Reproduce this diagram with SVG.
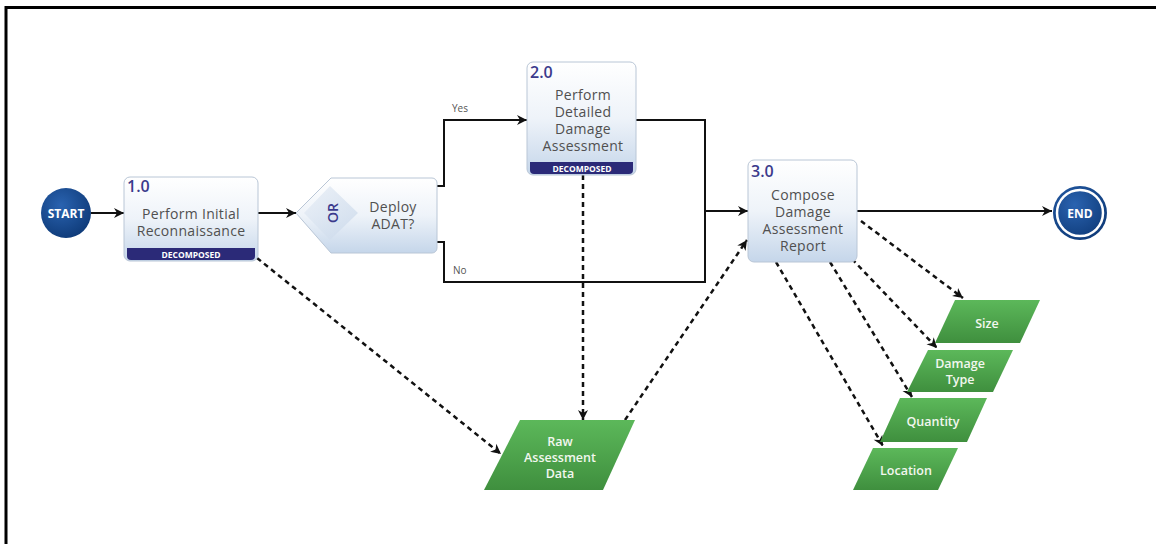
<svg xmlns="http://www.w3.org/2000/svg" width="1156" height="544" viewBox="0 0 1156 544">
<defs>
<linearGradient id="boxg" x1="0" y1="0" x2="0" y2="1"><stop offset="0" stop-color="#ffffff"/><stop offset="0.5" stop-color="#eef3f9"/><stop offset="1" stop-color="#c5d6ea"/></linearGradient>
<linearGradient id="greeng" x1="0" y1="0" x2="0" y2="1"><stop offset="0" stop-color="#5cb85a"/><stop offset="1" stop-color="#3f8f3e"/></linearGradient>
<radialGradient id="blueg" cx="0.4" cy="0.35" r="0.7"><stop offset="0" stop-color="#2a63b0"/><stop offset="1" stop-color="#0e3a78"/></radialGradient>
<linearGradient id="ordiam" x1="0" y1="0" x2="1" y2="1"><stop offset="0" stop-color="#e8eef6"/><stop offset="1" stop-color="#c9d8ea"/></linearGradient>
<marker id="arr" viewBox="0 0 12 12" refX="11" refY="6" markerWidth="12" markerHeight="12" markerUnits="userSpaceOnUse" orient="auto"><path d="M1,1 L11,6 L1,11 L4,6 Z" fill="#111"/></marker>
</defs>
<style>
.frame{stroke:#000;stroke-width:3;fill:none}
.box{fill:url(#boxg);stroke:#b9c6d6;stroke-width:1}
.num{font-family:"Open Sans","DejaVu Sans",sans-serif;font-size:16px;font-weight:600;fill:#3b3a8c}
.txt{font-family:"Open Sans","DejaVu Sans",sans-serif;font-size:14px;letter-spacing:0.3px;fill:#505050;text-anchor:middle}
.band{fill:#2b2a78}
.bandt{font-family:"Open Sans","DejaVu Sans",sans-serif;font-size:8.5px;font-weight:bold;fill:#fff;text-anchor:middle}
.green{fill:url(#greeng)}
.gt{font-family:"Open Sans","DejaVu Sans",sans-serif;font-size:12.5px;font-weight:600;fill:#f2f7ef;text-anchor:middle}
.solid{stroke:#111;stroke-width:2;fill:none}
.dash{stroke:#111;stroke-width:2.5;fill:none;stroke-dasharray:5 4}
.lbl{font-family:"Open Sans","DejaVu Sans",sans-serif;font-size:10px;fill:#555}
.circt{font-family:"Open Sans","DejaVu Sans",sans-serif;font-size:12px;font-weight:bold;fill:#fff;text-anchor:middle}
</style>
<rect width="1156" height="544" fill="#fff"/>
<path class="frame" d="M6,544 V7.5 H1156"/>

<g id="connectors">
<path class="solid" d="M91,213 H124" marker-end="url(#arr)"/>
<path class="solid" d="M258,213 H296" marker-end="url(#arr)"/>
<path class="solid" d="M437,186 H444 V120 H527" marker-end="url(#arr)"/>
<path class="solid" d="M437,242 H444 V282 H705 V120 H636"/>
<path class="solid" d="M705,211 H748" marker-end="url(#arr)"/>
<path class="solid" d="M857,211 H1052" marker-end="url(#arr)"/>
<path class="dash" d="M583,175 V420" marker-end="url(#arr)"/>
<path class="dash" d="M257,258 L501,454" marker-end="url(#arr)"/>
<path class="dash" d="M625,420 L747,240" marker-end="url(#arr)"/>
<path class="dash" d="M861,221 L963,298" marker-end="url(#arr)"/>
<path class="dash" d="M852,259 L937,348" marker-end="url(#arr)"/>
<path class="dash" d="M830,262 L912,397" marker-end="url(#arr)"/>
<path class="dash" d="M776,262 L883,446" marker-end="url(#arr)"/>
<text class="lbl" x="452" y="112">Yes</text>
<text class="lbl" x="453" y="274">No</text>
</g>

<g id="start">
<circle cx="66" cy="213" r="25" fill="url(#blueg)"/>
<text class="circt" x="66" y="217.5">START</text>
</g>

<g id="task1">
<rect class="box" x="124" y="177" width="134" height="84" rx="6"/>
<path class="band" d="M127,248 H255 V256 a4,4 0 0 1 -4,4 H131 a4,4 0 0 1 -4,-4 Z"/>
<text class="num" x="127" y="192">1.0</text>
<text class="txt" x="191" y="219">Perform Initial</text>
<text class="txt" x="191" y="236">Reconnaissance</text>
<text class="bandt" x="191" y="257.5">DECOMPOSED</text>
</g>

<g id="decision">
<path d="M296,213 L331,178 H432 a5,5 0 0 1 5,5 V248 a5,5 0 0 1 -5,5 H331 Z" fill="url(#boxg)" stroke="#b9c6d6"/>
<path d="M304,213 L330,186 L358,213 L330,240 Z" fill="url(#ordiam)" opacity="0.8"/>
<text class="num" x="0" y="0" transform="translate(338,213) rotate(-90)" text-anchor="middle" style="font-size:14px">OR</text>
<text class="txt" x="393" y="212">Deploy</text>
<text class="txt" x="393" y="229">ADAT?</text>
</g>

<g id="task2">
<rect class="box" x="527" y="62" width="109" height="113" rx="6"/>
<path class="band" d="M530,162 H633 V170 a4,4 0 0 1 -4,4 H534 a4,4 0 0 1 -4,-4 Z"/>
<text class="num" x="530" y="78">2.0</text>
<text class="txt" x="583" y="100">Perform</text>
<text class="txt" x="583" y="117">Detailed</text>
<text class="txt" x="583" y="134">Damage</text>
<text class="txt" x="583" y="151">Assessment</text>
<text class="bandt" x="582" y="171.5">DECOMPOSED</text>
</g>

<g id="task3">
<rect class="box" x="748" y="160" width="109" height="102" rx="6"/>
<text class="num" x="751" y="177">3.0</text>
<text class="txt" x="803" y="200">Compose</text>
<text class="txt" x="803" y="217">Damage</text>
<text class="txt" x="803" y="234">Assessment</text>
<text class="txt" x="803" y="251">Report</text>
</g>

<g id="end">
<circle cx="1080" cy="213" r="27" fill="url(#blueg)"/>
<circle cx="1080" cy="213" r="23" fill="none" stroke="#fff" stroke-width="2.5"/>
<text class="circt" x="1080" y="217.5">END</text>
</g>

<g id="rawdata">
<path class="green" d="M520,420 H635 L603,490 H484 Z"/>
<text class="gt" x="560" y="446">Raw</text>
<text class="gt" x="560" y="462">Assessment</text>
<text class="gt" x="560" y="478">Data</text>
</g>

<g id="size">
<path class="green" d="M955,300 H1040 L1020,343 H935 Z"/>
<text class="gt" x="987" y="328">Size</text>
</g>
<g id="damagetype">
<path class="green" d="M928,350 H1013 L993,392 H907 Z"/>
<text class="gt" x="960" y="368">Damage</text>
<text class="gt" x="960" y="384">Type</text>
</g>
<g id="quantity">
<path class="green" d="M900,398 H987 L967,442 H880 Z"/>
<text class="gt" x="933" y="426">Quantity</text>
</g>
<g id="location">
<path class="green" d="M873,448 H958 L938,490 H853 Z"/>
<text class="gt" x="906" y="475">Location</text>
</g>
</svg>
